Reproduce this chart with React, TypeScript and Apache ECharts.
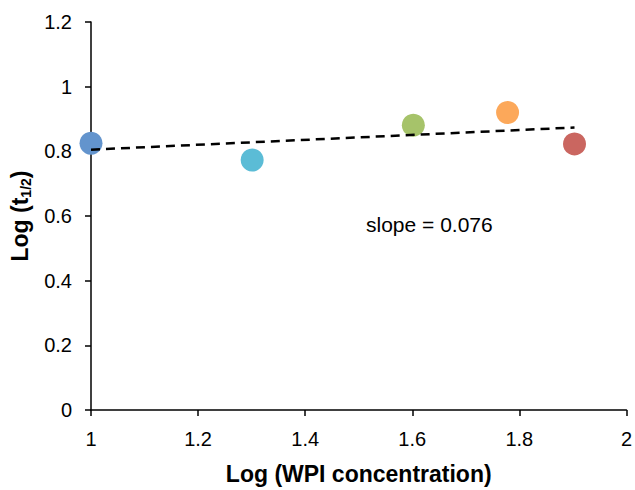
import React, { useEffect, useRef } from "react";
import * as echarts from "echarts";

// Log of WPI concentration (10, 20, 40, 60, 80) and log of half-life
const logConc = [1.0, 1.301, 1.602, 1.778, 1.903];
const logHalfLife = [0.825, 0.773, 0.881, 0.92, 0.823];
const pointColors = ["#6394CD", "#5BBCD6", "#A6C36A", "#FCA85A", "#CA6660"];

// Fitted trend line: stated slope, passing through the mean point
const slope = 0.076;
const meanX = logConc.reduce((a, b) => a + b, 0) / logConc.length;
const meanY = logHalfLife.reduce((a, b) => a + b, 0) / logHalfLife.length;
const intercept = meanY - slope * meanX;
const trendX = [logConc[0], logConc[logConc.length - 1]];

const FONT = "Liberation Sans, Arial, sans-serif";

export default function App() {
  const ref = useRef<HTMLDivElement>(null);

  useEffect(() => {
    document.body.style.margin = "0";
    if (!ref.current) return;
    const chart = echarts.init(ref.current, undefined, { renderer: "svg" });

    const axisCommon = {
      axisLine: { show: true, lineStyle: { color: "#000", width: 1.5 } },
      axisTick: { show: true, inside: false, length: 6, lineStyle: { color: "#000", width: 1.5 } },
      splitLine: { show: false },
      axisLabel: { color: "#000", fontSize: 20, fontFamily: FONT, margin: 19, hideOverlap: false },
    };

    chart.setOption({
      animation: false,
      backgroundColor: "#fff",
      grid: { left: 91, right: 8, top: 22, bottom: 76, containLabel: false },
      xAxis: {
        type: "value",
        min: 1,
        max: 2,
        interval: 0.2,
        ...axisCommon,
        axisLabel: { ...axisCommon.axisLabel, showMaxLabel: true, showMinLabel: true },
        name: "Log (WPI concentration)",
        nameLocation: "middle",
        nameGap: 52,
        nameTextStyle: { color: "#000", fontSize: 23, fontWeight: "bold", fontFamily: FONT },
      },
      yAxis: {
        type: "value",
        min: 0,
        max: 1.2,
        interval: 0.2,
        ...axisCommon,
        name: "{m|Log (t}{s|1/2}{m|)}",
        nameLocation: "middle",
        nameRotate: 90,
        nameGap: 47,
        nameTextStyle: {
          color: "#000",
          fontFamily: FONT,
          rich: {
            m: { fontSize: 23, fontWeight: "bold", fontFamily: FONT, color: "#000", lineHeight: 26 },
            s: {
              fontSize: 14,
              fontWeight: "bold",
              fontFamily: FONT,
              color: "#000",
              lineHeight: 14,
              verticalAlign: "bottom",
            },
          },
        },
      },
      series: [
        {
          type: "scatter",
          symbol: "circle",
          symbolSize: 23,
          z: 2,
          data: logConc.map((x, i) => ({
            value: [x, logHalfLife[i]],
            itemStyle: { color: pointColors[i], opacity: 1 },
          })),
        },
        {
          type: "line",
          z: 3,
          symbol: "none",
          silent: true,
          lineStyle: { color: "#000", width: 2.5, type: [9, 6] },
          data: trendX.map((x) => [x, intercept + slope * x]),
        },
      ],
      graphic: [
        {
          type: "text",
          left: 366,
          top: 214,
          style: {
            text: "slope = " + slope.toFixed(3),
            fontSize: 21,
            fontFamily: FONT,
            fill: "#000",
          },
        },
      ],
    });

    return () => chart.dispose();
  }, []);

  return <div ref={ref} style={{ width: 635, height: 490 }} />;
}
